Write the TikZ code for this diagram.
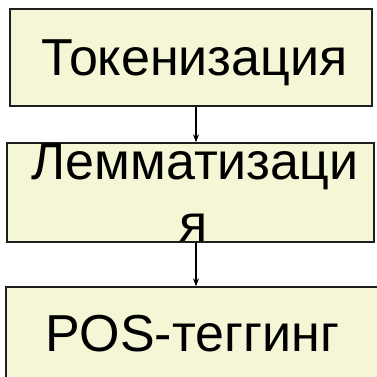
\documentclass[tikz,border=0pt]{standalone}
\usepackage{fontspec}
\setmainfont{Liberation Sans}
\usetikzlibrary{arrows.meta}
\definecolor{boxfill}{RGB}{245,246,214}
\definecolor{boxline}{RGB}{30,30,30}
\tikzset{
  stagebox/.style={draw=boxline, line width=1.4pt, fill=boxfill, rectangle, inner sep=0pt},
  stagetext/.style={anchor=base, inner sep=0pt, font=\fontsize{52}{62}\selectfont},
  flow/.style={line width=1.1pt, -{Stealth[length=8pt,width=6pt]}}
}
\begin{document}
\begin{tikzpicture}[x=1pt,y=-1pt]
  \useasboundingbox (0,0) rectangle (376,377);
  % stage boxes
  \node[stagebox, minimum width=362pt, minimum height=97pt] (b1) at (191,57.5) {};
  \node[stagebox, minimum width=367pt, minimum height=99pt] (b2) at (190.5,192.5) {};
  \node[stagebox, minimum width=380pt, minimum height=113pt] (b3) at (196,343.5) {};
  % labels
  \node[stagetext] (t1) at (194.5,76) {Токенизация};
  \node[stagetext] (t2a) at (195,179) {Лемматизаци};
  \node[stagetext] (t2b) at (194,241) {я};
  \node[stagetext] (t3) at (192,351) {POS-теггинг};
  % connectors
  \coordinate (ax) at (196,0);
  \draw[flow] (b1.south -| ax) -- (b2.north -| ax);
  \draw[flow] (b2.south -| ax) -- (b3.north -| ax);
\end{tikzpicture}
\end{document}
